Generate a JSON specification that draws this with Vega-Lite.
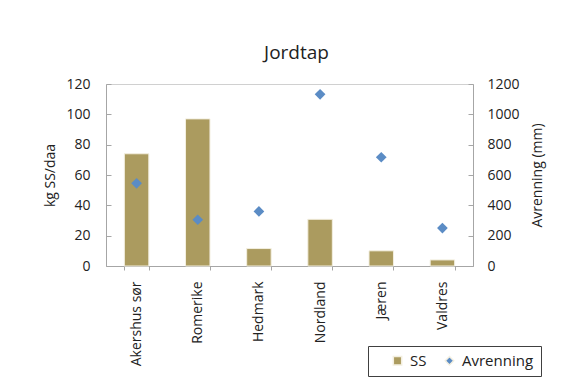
{
  "$schema": "https://vega.github.io/schema/vega-lite/v6.json",
  "autosize": {"type": "none"},
  "padding": {"left": 106, "top": 84, "right": 108, "bottom": 126},
  "width": 367,
  "height": 182,
  "background": "white",
  "title": {"text": "Jordtap", "fontSize": 19, "fontWeight": "normal", "font": "Open Sans", "color": "#222222", "offset": 14, "dx": 7},
  "config": {
    "font": "Open Sans",
    "view": {"stroke": "#d0d0d0", "strokeWidth": 1},
    "axis": {"labelFont": "Open Sans", "labelFontSize": 14, "labelColor": "#222222", "titleFont": "Open Sans", "titleFontSize": 14, "titleFontWeight": "normal", "titleColor": "#222222", "domainColor": "#a6a6a6", "tickColor": "#a6a6a6", "grid": false},
    "legend": {"labelFont": "Open Sans", "labelFontSize": 15, "labelColor": "#222222"}
  },
  "data": {"values": [
    {"region": "Akershus sør", "SS": 74, "Avrenning": 545},
    {"region": "Romerike", "SS": 97, "Avrenning": 305},
    {"region": "Hedmark", "SS": 11.5, "Avrenning": 360},
    {"region": "Nordland", "SS": 30.8, "Avrenning": 1132},
    {"region": "Jæren", "SS": 10, "Avrenning": 717},
    {"region": "Valdres", "SS": 4, "Avrenning": 250}
  ]},
  "encoding": {
    "x": {"field": "region", "type": "nominal", "sort": null,
      "scale": {"paddingInner": 0.6, "paddingOuter": 0.3},
      "axis": {"title": null, "labelAngle": -90, "labelAlign": "right", "labelBaseline": "middle", "labelFontSize": 14, "labelPadding": 11, "tickBand": "extent", "tickSize": 4}}
  },
  "layer": [
    {
      "mark": {"type": "bar", "stroke": "#f3efe0", "strokeWidth": 1},
      "encoding": {
        "y": {"field": "SS", "type": "quantitative", "scale": {"domain": [0, 120]},
          "axis": {"title": "kg SS/daa", "values": [0, 20, 40, 60, 80, 100, 120], "orient": "left", "titlePadding": 8, "tickSize": -5, "labelPadding": 21}},
        "color": {"datum": "SS", "scale": {"domain": ["SS", "Avrenning"], "range": ["#ab9b5f", "#5b8cc5"]},
          "legend": {"title": " ", "titleOrient": "left", "titlePadding": 15, "orient": "none", "legendX": 262, "legendY": 262, "direction": "horizontal", "strokeColor": "#404040", "padding": 7, "columnPadding": 15, "symbolSize": 70, "labelOffset": 5, "labelExpr": "datum.label == 'Avrenning' ? 'Avrenning   ' : datum.label"}}
      }
    },
    {
      "mark": {"type": "point", "filled": true, "size": 115, "opacity": 1},
      "encoding": {
        "y": {"field": "Avrenning", "type": "quantitative", "scale": {"domain": [0, 1200]},
          "axis": {"title": "Avrenning (mm)", "format": "d", "values": [0, 200, 400, 600, 800, 1000, 1200], "orient": "right", "titlePadding": 25, "tickSize": -5, "labelPadding": 19, "titleAngle": 270}},
        "color": {"datum": "Avrenning"},
        "shape": {"datum": "Avrenning", "scale": {"domain": ["SS", "Avrenning"], "range": ["square", "diamond"]},
          "legend": {"title": " ", "titleOrient": "left", "titlePadding": 15, "orient": "none", "legendX": 262, "legendY": 262, "direction": "horizontal", "strokeColor": "#404040", "padding": 7, "columnPadding": 15, "symbolSize": 70, "labelOffset": 5, "labelExpr": "datum.label == 'Avrenning' ? 'Avrenning   ' : datum.label"}}
      }
    }
  ],
  "resolve": {"scale": {"y": "independent"}}
}
